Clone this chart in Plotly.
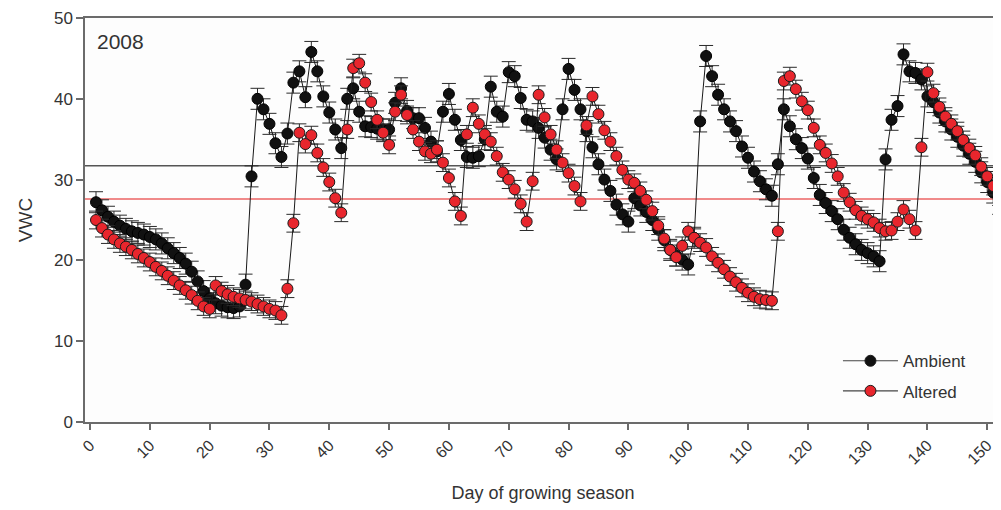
import plotly.graph_objects as go

days = list(range(1, 153))

ambient = [27.2, 26.2, 25.4, 24.8, 24.3, 23.9, 23.6, 23.4, 23.2, 22.9,
           22.6, 22.1, 21.5, 20.9, 20.3, 19.6, 18.6, 17.4, 16.2, 15.3,
           14.7, 14.4, 14.2, 14.1, 14.3, 17.0, 30.4, 40.0, 38.7, 36.9,
           34.5, 32.8, 35.7, 42.0, 43.4, 40.2, 45.8, 43.4, 40.3, 38.3,
           36.2, 33.9, 40.0, 41.3, 38.4, 36.6, 36.5, 36.3, 36.2, 36.2,
           39.5, 41.3, 38.5, 37.6, 37.6, 36.4, 34.7, 33.5, 38.4, 40.6,
           37.4, 34.9, 32.8, 32.7, 32.9, 35.0, 41.5, 38.4, 37.8, 43.3,
           42.8, 40.1, 37.4, 37.2, 36.4, 35.2, 33.7, 32.5, 38.7, 43.7,
           41.1, 38.7, 36.0, 34.0, 31.9, 30.0, 28.6, 26.9, 25.7, 24.8,
           27.7, 26.8, 26.0, 25.0, 23.8, 22.5, 21.3, 20.6, 20.1, 19.5,
           22.8, 37.2, 45.3, 42.8, 40.5, 38.7, 37.2, 36.0, 34.1, 32.7,
           31.0, 29.8, 28.8, 28.0, 31.9, 38.7, 36.6, 35.0, 33.9, 32.6,
           30.2, 28.1, 27.1, 26.1, 25.1, 23.8, 22.8, 22.0, 21.3, 20.9,
           20.5, 19.9, 32.5, 37.4, 39.1, 45.5, 43.4, 43.2, 42.4, 40.3,
           39.6, 38.3, 37.2, 36.2, 35.3, 34.2, 33.2, 32.2, 30.9, 29.7,
           28.4, 27.0]

altered = [25.0, 24.0, 23.2, 22.6, 22.1, 21.7, 21.3, 20.8, 20.3, 19.8,
           19.2, 18.7, 18.1, 17.5, 16.9, 16.3, 15.7, 15.0, 14.3, 14.0,
           16.9, 16.2, 15.8, 15.5, 15.3, 15.1, 14.9, 14.6, 14.3, 14.0,
           13.8, 13.2, 16.5, 24.6, 35.8, 34.4, 35.5, 33.3, 31.5, 29.7,
           27.7, 25.9, 36.2, 43.8, 44.4, 42.0, 39.6, 37.4, 35.8, 34.3,
           38.4, 40.5, 38.0, 36.2, 34.7, 33.5, 33.2, 33.7, 32.1, 30.2,
           27.3, 25.5, 35.6, 38.9, 36.9, 35.6, 34.7, 32.9, 30.9, 30.0,
           28.8, 27.0, 24.8, 29.8, 40.5, 37.7, 35.6, 33.7, 32.1, 30.8,
           29.2, 27.3, 36.7, 40.3, 38.1, 36.1, 34.7, 32.9, 31.2, 30.0,
           29.6, 28.6, 27.5, 26.1, 24.3, 22.7, 21.3, 20.4, 21.8, 23.6,
           22.8, 22.2, 21.6, 20.5, 19.7, 18.9, 18.0, 17.3, 16.6, 16.0,
           15.5, 15.2, 15.1, 15.0, 23.6, 42.2, 42.8, 41.2, 39.7, 38.6,
           36.4, 34.3, 33.3, 32.0, 30.4, 28.4, 27.2, 26.2, 25.5, 25.1,
           24.7, 24.0, 23.6, 23.7, 24.8, 26.3, 25.1, 23.7, 34.0, 43.3,
           40.7, 39.0, 37.8, 36.9, 36.0, 34.9, 33.9, 33.0, 31.6, 30.4,
           29.2, 27.9]

ambient_se = 1.3
altered_se = 1.1
ambient_ref = 31.7
altered_ref = 27.6
x_ticks = list(range(0, 151, 10))
y_ticks = [0, 10, 20, 30, 40, 50]

FONT = "Liberation Sans, Arial, sans-serif"
TXT = "#333333"
AX = "#6b6b6b"
BLACK = "#111111"
RED = "#e8262d"

fig = go.Figure()

fig.add_trace(go.Scatter(
    x=days, y=ambient, name="Ambient", mode="lines+markers", showlegend=False,
    line=dict(color="#1a1a1a", width=1),
    marker=dict(size=11, color=BLACK, line=dict(color="#000000", width=1)),
    error_y=dict(type="constant", value=ambient_se, color="#2a2a2a",
                 thickness=1, width=7),
))
fig.add_trace(go.Scatter(
    x=days, y=altered, name="Altered", mode="lines+markers", showlegend=False,
    line=dict(color="#1a1a1a", width=1),
    marker=dict(size=11, color=RED, line=dict(color="#1a1a1a", width=1)),
    error_y=dict(type="constant", value=altered_se, color="#2a2a2a",
                 thickness=1, width=7),
))

# legend-only entries (without error bars in the key)
for nm, col in (("Ambient", BLACK), ("Altered", RED)):
    fig.add_trace(go.Scatter(
        x=[None], y=[None], name=nm, mode="lines+markers", legendgroup=nm,
        line=dict(color="#444444", width=1.2),
        marker=dict(size=11, color=col, line=dict(color="#1a1a1a", width=1)),
    ))

fig.add_shape(type="line", xref="paper", yref="y", x0=0, x1=1,
              y0=ambient_ref, y1=ambient_ref, layer="below",
              line=dict(color="#555555", width=1.5))
fig.add_shape(type="line", xref="paper", yref="y", x0=0, x1=1,
              y0=altered_ref, y1=altered_ref, layer="below",
              line=dict(color="#f08a8a", width=2))

fig.add_annotation(text="2008", xref="paper", yref="paper", x=0.011, y=0.975,
                   xanchor="left", yanchor="top", showarrow=False,
                   font=dict(family=FONT, size=21, color=TXT))

fig.update_layout(
    width=993, height=502,
    margin=dict(l=77, r=0, t=10, b=88),
    paper_bgcolor="white", plot_bgcolor="#fdfdfd",
    font=dict(family=FONT, size=16, color=TXT),
    showlegend=True,
    legend=dict(x=0.822, y=0.195, xanchor="left", yanchor="top",
                bgcolor="rgba(0,0,0,0)", font=dict(family=FONT, size=17, color=TXT),
                tracegroupgap=5, itemwidth=55),
    xaxis=dict(range=[-0.84, 152.3], tickmode="array", tickvals=x_ticks,
               tickangle=-45, ticks="outside", ticklen=6, tickcolor=AX,
               tickwidth=1.5, showline=True, linecolor=AX, linewidth=1.5,
               mirror=True, showgrid=False, zeroline=False,
               tickfont=dict(family=FONT, size=16, color=TXT),
               title=dict(text="Day of growing season", standoff=20,
                          font=dict(family=FONT, size=18, color=TXT))),
    yaxis=dict(range=[0, 50], tickmode="array", tickvals=y_ticks,
               ticks="outside", ticklen=7, tickcolor=AX, tickwidth=1.5,
               showline=True, linecolor=AX, linewidth=1.5, showgrid=False,
               zeroline=False, tickfont=dict(family=FONT, size=17, color=TXT),
               title=dict(text="VWC", standoff=16,
                          font=dict(family=FONT, size=19, color=TXT))),
)

fig.write_html("out.html")
